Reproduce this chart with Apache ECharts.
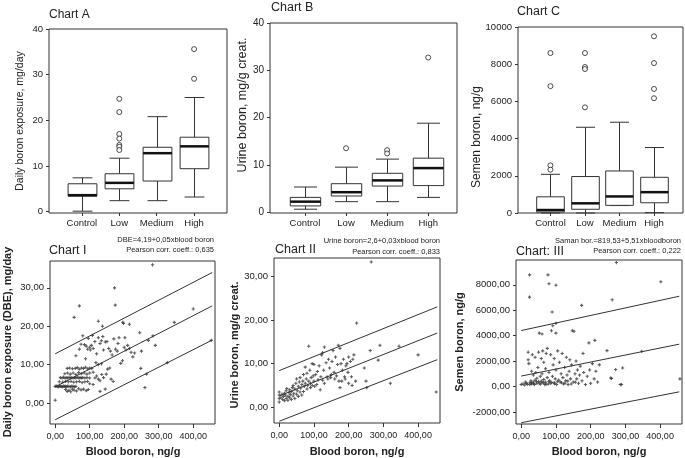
<!DOCTYPE html>
<html><head><meta charset="utf-8">
<script src="https://cdn.jsdelivr.net/npm/echarts@6/dist/echarts.min.js"></script>
<style>html,body{margin:0;padding:0;background:#fff}#c{width:685px;height:458px}</style>
</head><body><div id="c"></div>
<script>
// ---------- DATA ----------
const categories = ['Control', 'Low', 'Medium', 'High'];
// [low whisker, Q1, median, Q3, high whisker]
const boxA = [[0.1,3.4,3.6,6.1,7.4],[2.4,5.0,6.3,8.3,11.7],[2.4,6.7,12.8,14.1,20.8],[3.2,9.4,14.3,16.3,25.0]];
const outA = [[2,24.7],[2,21.8],[2,17.0],[2,16.0],[2,14.6],[2,14.2],[2,13.5],[4,35.6],[4,29.1]];
const boxB = [[0.6,1.3,2.2,3.1,5.3],[2.2,3.4,4.2,6.0,9.5],[2.2,5.5,6.7,8.2,11.2],[3.1,5.6,9.3,11.4,18.8]];
const outB = [[2,13.5],[3,13.1],[3,12.4],[4,32.7]];
const boxC = [[0,50,160,870,2080],[0,200,520,1960,4610],[400,410,890,2260,4880],[20,550,1120,1920,3520]];
const outC = [[1,8600],[1,6820],[1,2560],[1,2330],[2,8600],[2,7850],[2,7740],[2,5680],[4,9500],[4,8060],[4,6670],[4,6170]];
const ticksAB = [0,10,20,30,40];
const ticksC = [0,2000,4000,6000,8000,10000];
const ticksBlood = [0,100,200,300,400];
const ticksDBE = [0,10,20,30];
const ticksUrine = [0,10,20,30];
const ticksSemen = [-2000,0,2000,4000,6000,8000];

const dbeVsBlood = [
[0,0.7],[0,4.3],[3,4.4],[6,4.3],[9,4.2],[12,4.4],[15,4.3],[18,4.3],[21,4.2],[24,4.4],[27,4.3],[30,4.3],[33,4.2],[36,4.4],[40,4.3],[44,4.2],[48,4.4],[52,4.3],[56,4.2],[60,4.3],
[30,3.5],[35,3.0],[40,3.3],[45,2.9],[50,3.6],[55,3.3],[62,3.1],[68,3.7],[75,3.4],[82,3.6],[90,3.2],[96,3.5],
[15,6.6],[20,6.5],[24,6.7],[28,6.5],[32,6.6],[36,6.5],[40,6.7],[44,6.5],[48,6.6],[52,6.5],[56,6.6],[60,6.5],[64,6.7],[68,6.5],[72,6.6],[76,6.5],[80,6.6],[86,6.5],[92,6.6],[100,6.5],
[12,5.5],[22,5.4],[30,5.6],[38,5.5],[46,5.6],[54,5.4],[62,5.5],[70,5.6],[78,5.3],[86,5.5],[94,5.6],
[28,7.6],[36,7.8],[44,7.5],[52,7.8],[60,7.4],[68,7.9],[76,7.6],[84,7.8],[92,7.5],[100,7.8],
[35,9.0],[42,9.1],[50,8.9],[58,9.0],[64,9.2],[70,8.8],[76,9.1],[82,9.0],[88,9.3],[94,8.9],[100,9.1],[106,9.0],
[110,8.0],[115,6.5],[120,7.0],[125,6.2],[130,5.8],[135,7.4],[140,6.6],[148,7.5],[152,8.8],[158,9.1],[162,6.2],[168,5.6],[130,3.0],[145,3.6],[118,10.5],[125,10.0],[134,10.2],[110,4.8],[100,5.0],
[60,12.3],[70,14.0],[75,15.3],[80,17.5],[85,15.2],[88,11.5],[90,14.8],[94,14.0],[96,16.8],[100,14.5],[102,13.8],[105,15.0],[108,17.6],[110,14.2],[115,16.0],[120,12.8],[125,17.0],[130,15.5],[134,16.2],[138,17.3],[140,13.8],[145,15.9],[150,16.0],[155,14.2],[160,13.5],[165,12.5],[170,16.7],[175,14.0],[180,13.5],[182,15.5],[185,17.0],[190,10.3],[195,11.0],[200,14.5],[202,17.0],[205,13.8],[210,15.0],[215,14.2],[220,13.2],[225,12.0],[230,13.0],[250,13.5],
[55,22.3],[70,25.3],[125,21.3],[137,20.0],[172,30.0],[174,25.5],[282,36.0],[198,20.7],[196,21.0],[215,20.5],[245,18.3],[270,16.3],[283,17.5],[290,15.0],[248,9.0],[260,4.0],[265,7.5],[325,10.5],[345,21.0],[400,24.5],[452,16.3]
];
const urineVsBlood = [
[0,1.2],[0,2.0],[0,2.8],[0,3.5],[5,2.2],[8,3.0],[10,1.8],[12,2.5],[15,3.2],[15,1.5],[18,2.8],[20,2.0],[20,3.8],[22,4.3],[25,2.5],[25,1.6],[28,3.4],[30,2.2],[30,4.0],[32,2.9],[35,1.8],[35,3.6],[38,4.5],[40,2.6],[40,5.0],[42,3.2],[45,2.0],[45,4.2],[48,5.5],[50,3.0],[50,6.5],[52,3.8],[55,2.5],[55,4.8],[58,5.8],[60,3.5],[60,6.8],[62,4.4],[65,2.8],[65,5.2],[68,6.0],[70,3.6],[70,7.5],[72,4.8],[75,5.5],[75,9.2],[78,6.5],[80,4.2],[80,7.8],[82,5.0],[85,14.0],[85,6.0],[88,8.5],[90,4.5],[90,5.5],[92,6.8],[95,10.0],[95,5.0],[98,7.2],[100,6.0],[100,9.8],[102,4.8],[105,7.5],[108,5.2],[110,8.2],[112,6.3],[115,9.5],[118,4.0],[120,7.0],[122,12.0],[125,12.5],[125,6.2],[128,8.5],[130,13.8],[130,5.5],[135,10.2],[138,7.0],[140,6.5],[142,11.0],[145,9.0],[148,6.8],[150,7.5],[152,10.5],[155,13.0],[158,8.0],[160,6.5],[162,11.5],[165,7.2],[168,9.8],[170,14.2],[172,6.0],[175,13.5],[175,4.5],[178,10.0],[180,6.0],[182,8.5],[185,11.0],[188,7.0],[190,6.5],[192,9.5],[195,10.0],[198,8.0],[200,5.5],[200,11.5],[205,10.5],[208,7.0],[210,5.0],[212,11.0],[215,12.0],[220,6.0],[223,19.3],[245,9.0],[250,6.0],[252,4.5],[262,13.0],[265,33.3],[285,10.8],[290,14.2],[320,5.5],[345,14.0],[400,12.0],[452,3.5]
];
const semenVsBlood = [
[0,160],[5,200],[10,120],[12,350],[15,250],[18,180],[20,2700],[20,2100],[22,1800],[24,8780],[24,7030],[25,300],[25,150],[28,450],[30,200],[30,1200],[32,2500],[35,350],[35,900],[38,150],[40,2300],[40,500],[42,1100],[45,250],[45,650],[48,1500],[50,400],[50,2700],[52,4200],[55,180],[55,800],[58,2200],[60,4130],[60,300],[60,1000],[62,2800],[65,550],[65,1900],[68,150],[70,350],[70,1400],[72,2600],[75,700],[75,3000],[77,8780],[78,200],[80,8080],[80,1100],[82,450],[85,2500],[85,250],[87,4390],[89,5860],[90,800],[91,4780],[92,1700],[95,300],[95,2200],[98,600],[100,7970],[100,4970],[100,4200],[100,1300],[102,150],[105,2800],[108,500],[110,1900],[112,350],[115,1000],[118,2600],[120,700],[122,200],[125,1500],[128,450],[130,2300],[132,900],[135,150],[138,1200],[140,2100],[142,600],[145,1700],[147,4390],[150,350],[152,4340],[155,1000],[158,2000],[160,600],[162,1300],[165,250],[168,900],[170,1600],[174,6380],[175,450],[178,2600],[180,1100],[185,150],[190,800],[195,3430],[197,1300],[200,250],[205,1800],[210,600],[212,3630],[215,1200],[220,350],[225,1700],[247,2820],[258,680],[260,630],[262,6820],[272,1330],[274,9750],[285,150],[289,150],[292,1460],[347,2770],[402,8240],[457,600],
[30,300],[36,220],[44,380],[52,260],[58,420],[64,300],[72,180],[80,400],[88,320],[96,220],[104,380],[116,300],[126,260],[134,420],[144,200],[156,340]
];
// regression line and prediction band end points
const fitDBE = [[[0,4.2],[455,25.3]],[[0,12.8],[455,34.0]],[[0,-4.4],[455,16.4]]];
const fitUrine = [[[0,2.6],[455,17.0]],[[0,8.4],[455,23.0]],[[0,-3.2],[455,10.9]]];
const fitSemen = [[[0,820],[455,3330]],[[0,4400],[455,7100]],[[0,-2850],[455,-420]]];

// ---------- CHART ----------
const FF = 'Liberation Sans, Arial, sans-serif';
const TXT = '#222';
const LINE = '#333';
const comma = v => v.toFixed(2).replace('.', ',');

function boxRenderer(boxW, capW) {
  return function (params, api) {
    const x = api.value(0);
    const lo = api.coord([x, api.value(1)]);
    const q1 = api.coord([x, api.value(2)]);
    const md = api.coord([x, api.value(3)]);
    const q3 = api.coord([x, api.value(4)]);
    const hi = api.coord([x, api.value(5)]);
    const bw = api.size([boxW, 0])[0];
    const cw = api.size([capW, 0])[0];
    const cx = Math.round(lo[0]) + 0.5;
    const st = { stroke: LINE, lineWidth: 1 };
    return { type: 'group', children: [
      { type: 'line', shape: { x1: cx, y1: hi[1], x2: cx, y2: q3[1] }, style: st },
      { type: 'line', shape: { x1: cx, y1: q1[1], x2: cx, y2: lo[1] }, style: st },
      { type: 'line', shape: { x1: cx - cw / 2, y1: hi[1], x2: cx + cw / 2, y2: hi[1] }, style: st },
      { type: 'line', shape: { x1: cx - cw / 2, y1: lo[1], x2: cx + cw / 2, y2: lo[1] }, style: st },
      { type: 'rect', shape: { x: cx - bw / 2, y: q3[1], width: bw, height: q1[1] - q3[1] }, style: { stroke: LINE, lineWidth: 1, fill: '#fff' } },
      { type: 'line', shape: { x1: cx - bw / 2, y1: md[1], x2: cx + bw / 2, y2: md[1] }, style: { stroke: '#111', lineWidth: 2.5 } }
    ]};
  };
}

const grids = [
  { left: 49, top: 29, width: 178, height: 184 },
  { left: 270, top: 23, width: 187, height: 190 },
  { left: 518, top: 27, width: 165, height: 186 },
  { left: 50, top: 261, width: 165, height: 163 },
  { left: 274, top: 258, width: 166, height: 165 },
  { left: 516, top: 260, width: 166, height: 164 }
].map(g => Object.assign({ show: true, borderColor: LINE, borderWidth: 1, backgroundColor: '#fff', containLabel: false }, g));

function catX(i, min, max) {
  return { gridIndex: i, type: 'value', min: min, max: max,
    axisLine: { show: false, onZero: false }, splitLine: { show: false },
    axisTick: { show: true, length: 3, lineStyle: { color: LINE }, customValues: [1,2,3,4] },
    axisLabel: { customValues: [1,2,3,4], formatter: v => categories[Math.round(v) - 1], fontSize: 9.5, color: TXT, fontFamily: FF, margin: 5 } };
}
function valY(i, min, max, ticks, fmt, fs) {
  return { gridIndex: i, type: 'value', min: min, max: max,
    axisLine: { show: false, onZero: false }, splitLine: { show: false },
    axisTick: { show: true, length: 3, lineStyle: { color: LINE }, customValues: ticks },
    axisLabel: { customValues: ticks, formatter: fmt, fontSize: fs, color: TXT, fontFamily: FF, margin: 6 } };
}
function bloodX(i) {
  return { gridIndex: i, type: 'value', min: -15, max: 463,
    axisLine: { show: false, onZero: false }, splitLine: { show: false },
    axisTick: { show: true, length: 4, lineStyle: { color: LINE }, customValues: ticksBlood },
    axisLabel: { customValues: ticksBlood, formatter: comma, fontSize: 9, color: TXT, fontFamily: FF, margin: 8 } };
}

const xAxis = [catX(0, 0.12, 4.88), catX(1, 0.15, 4.7), catX(2, 0.06, 4.84), bloodX(3), bloodX(4), bloodX(5)];
const yAxis = [
  valY(0, -0.3, 40, ticksAB, v => String(v), 9.5),
  valY(1, -0.2, 40, ticksAB, v => String(v), 10),
  valY(2, 0, 10000, ticksC, v => String(v), 9.5),
  valY(3, -5.5, 37, ticksDBE, comma, 9.5),
  valY(4, -3.6, 34.2, ticksUrine, comma, 9.5),
  valY(5, -2950, 9950, ticksSemen, comma, 9.5)
];

const series = [];
function addBox(i, stats, outs, bw, cw) {
  series.push({ type: 'custom', xAxisIndex: i, yAxisIndex: i, renderItem: boxRenderer(bw, cw),
    data: stats.map((s, k) => [k + 1].concat(s)), encode: { x: 0, y: [1,2,3,4,5] }, silent: true, z: 2 });
  series.push({ type: 'scatter', xAxisIndex: i, yAxisIndex: i, data: outs, symbol: 'circle', symbolSize: 5,
    itemStyle: { color: '#fff', borderColor: '#222', borderWidth: 1 }, silent: true, z: 3 });
}
addBox(0, boxA, outA, 0.77, 0.53);
addBox(1, boxB, outB, 0.74, 0.56);
addBox(2, boxC, outC, 0.8, 0.55);

const plus = 'path://M1 0H2V1H3V2H2V3H1V2H0V1H1Z';
function addScatter(i, pts, fits) {
  series.push({ type: 'scatter', xAxisIndex: i, yAxisIndex: i, data: pts, symbol: plus, symbolSize: 3.2,
    itemStyle: { color: '#333' }, silent: true });
  fits.forEach(f => series.push({ type: 'line', xAxisIndex: i, yAxisIndex: i, data: f, showSymbol: false,
    lineStyle: { color: LINE, width: 1 }, silent: true }));
}
addScatter(3, dbeVsBlood, fitDBE);
addScatter(4, urineVsBlood, fitUrine);
addScatter(5, semenVsBlood, fitSemen);

function T(text, x, y, opt) {
  opt = opt || {};
  return { type: 'text', x: x, y: y, rotation: opt.rot || 0, silent: true,
    style: { text: text, fill: opt.color || TXT, fontSize: opt.fs || 10, fontFamily: FF, fontWeight: opt.fw || 'normal',
      align: opt.align || 'left', verticalAlign: 'middle' } };
}
const R = Math.PI / 2;
const graphic = [
  T('Chart A', 49, 15, { fs: 12 }),
  T('Chart B', 271, 8, { fs: 12.5 }),
  T('Chart C', 517, 12, { fs: 12.5 }),
  T('Chart I', 49, 251, { fs: 12.5 }),
  T('Chart II', 275, 250, { fs: 12.5 }),
  T('Chart: III', 516, 252, { fs: 12.5 }),
  T('DBE=4,19+0,05xblood boron', 214, 240, { fs: 7.5, align: 'right' }),
  T('Pearson corr. coeff.: 0,635', 214, 250, { fs: 7.5, align: 'right' }),
  T('Urine boron=2,6+0,03xblood boron', 440, 241, { fs: 7.5, align: 'right' }),
  T('Pearson corr. coeff.: 0,833', 440, 252, { fs: 7.5, align: 'right' }),
  T('Saman bor.=819,53+5,51xbloodboron', 681, 241, { fs: 7.5, align: 'right' }),
  T('Pearson corr. coeff.: 0,222', 681, 251, { fs: 7.5, align: 'right' }),
  T('Daily boron exposure, mg/day', 20, 121, { fs: 10.5, rot: R, align: 'center' }),
  T('Urine boron, mg/g creat.', 243, 105, { fs: 12.5, rot: R, align: 'center' }),
  T('Semen boron, ng/g', 477, 137, { fs: 12, rot: R, align: 'center' }),
  T('Daily boron exposure (DBE), mg/day', 8, 342, { fs: 11, fw: 'bold', rot: R, align: 'center' }),
  T('Urine boron, mg/g creat.', 235, 345, { fs: 11, fw: 'bold', rot: R, align: 'center' }),
  T('Semen boron, ng/g', 460, 342, { fs: 11, fw: 'bold', rot: R, align: 'center' }),
  T('Blood boron, ng/g', 133, 452, { fs: 11, fw: 'bold', align: 'center' }),
  T('Blood boron, ng/g', 357, 452, { fs: 11, fw: 'bold', align: 'center' }),
  T('Blood boron, ng/g', 599, 452, { fs: 11, fw: 'bold', align: 'center' })
];

const chart = echarts.init(document.getElementById('c'), null, { renderer: 'canvas' });
chart.setOption({ animation: false, backgroundColor: '#fff', grid: grids, xAxis: xAxis, yAxis: yAxis, series: series, graphic: graphic });
</script></body></html>
